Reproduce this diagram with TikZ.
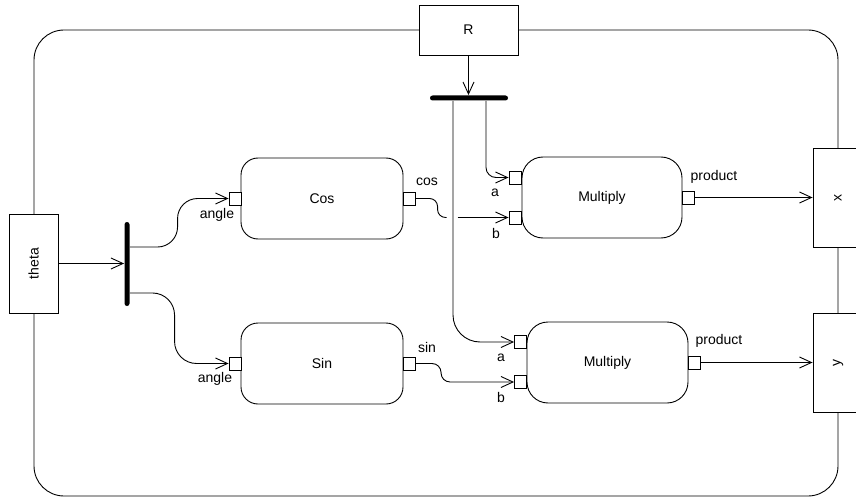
\documentclass[tikz,border=0pt]{standalone}
\usepackage{fontspec}
\setmainfont{Liberation Sans}
\usetikzlibrary{arrows.meta}
\begin{document}
\begin{tikzpicture}[x=1pt,y=-1pt, line width=0.9pt,
 font=\fontsize{14}{16}\selectfont,
 conn/.style={draw, -{Straight Barb[length=12pt,width=11pt]}},
 plain/.style={draw},
 blk/.style={draw, fill=white, rounded corners=17pt, minimum width=162pt, minimum height=81pt, inner sep=0pt},
 mblk/.style={draw, fill=white, rounded corners=21pt, minimum height=81pt, inner sep=0pt},
 vbox/.style={draw, fill=white, minimum width=49pt, minimum height=99pt, inner sep=0pt},
 hbox/.style={draw, fill=white, minimum width=99pt, minimum height=50pt, inner sep=0pt},
 port/.style={draw, fill=white, minimum width=12pt, minimum height=13pt, inner sep=0pt},
 bar/.style={fill=black, rounded corners=2.5pt, inner sep=0pt},
 lbl/.style={inner sep=0pt}]
\useasboundingbox (0,0) rectangle (856,497);
% frame
\draw[rounded corners=30pt] (34,30) rectangle (838,496);
% boundary boxes
\node[vbox] (theta) at (33.5,263.5) {\rotatebox{90}{theta}};
\node[hbox] (R) at (468.5,30) {R};
\node[vbox, minimum width=50pt] (x) at (838,197.5) {\rotatebox{90}{x}};
\node[vbox, minimum width=50pt] (y) at (838,362.5) {\rotatebox{90}{y}};
% blocks
\node[blk] (cos) at (322,198.5) {Cos};
\node[blk] (sin) at (322,363.5) {Sin};
\node[mblk, minimum width=160pt] (m1) at (602,197.5) {Multiply};
\node[mblk, minimum width=161pt] (m2) at (607.5,362.5) {Multiply};
% ports
\node[port] (cosin) at (235,198.5) {};
\node[port] (cosout) at (409,198.5) {};
\node[port] (sinin) at (235,363.5) {};
\node[port] (sinout) at (409,363.5) {};
\node[port] (m1a) at (515,177.5) {};
\node[port] (m1b) at (515,217.5) {};
\node[port] (m1p) at (688,197.5) {};
\node[port] (m2a) at (520.5,342) {};
\node[port] (m2b) at (520.5,382) {};
\node[port] (m2p) at (694,362.5) {};
% forks
\node[bar, minimum width=5pt, minimum height=84pt] (fork) at (127,264) {};
\node[bar, minimum width=78pt, minimum height=5pt] (rbar) at (469,98) {};
% labels
\node[lbl] (l1) at (217,215) {angle};
\node[lbl] (l2) at (215,379) {angle};
\node[lbl] (l3) at (427,182) {cos};
\node[lbl] (l4) at (427,347) {sin};
\node[lbl] (l5) at (495,193) {a};
\node[lbl] (l6) at (496,233) {b};
\node[lbl] (l7) at (501,358) {a};
\node[lbl] (l8) at (501,397) {b};
\node[lbl] (l9) at (714,177) {product};
\node[lbl] (l10) at (719,341) {product};
% gap coordinates
\coordinate (gapL) at ([xshift=-62pt]m1b.west);
\coordinate (gapR) at ([xshift=-51pt]m1b.west);
% connectors
\draw[conn] (theta.east) -- (theta.east -| fork.west);
\draw[conn] (R.south) -- (R.south |- rbar.north);
\draw[conn, rounded corners=20pt] ([yshift=17pt]fork.east) -| ([xshift=-51pt]cosin.west) -- (cosin.west);
\draw[conn, rounded corners=22pt] ([yshift=-29pt]fork.east) -| ([xshift=-54pt]sinin.west) -- (sinin.west);
\draw[plain, rounded corners=8pt] (cosout.east) -| ([xshift=-71pt]m1b.west) -- (gapL);
\draw[conn] (gapR) -- (m1b.west);
\draw[conn, rounded corners=9pt] (sinout.east) -| ([xshift=-73pt]m2b.west) -- (m2b.west);
\draw[conn, rounded corners=27pt] ([xshift=-16pt]rbar.south) |- (m2a.west);
\draw[conn, rounded corners=10pt] ([xshift=17pt]rbar.south) |- (m1a.west);
\draw[conn] (m1p.east) -- (x.west);
\draw[conn] (m2p.east) -- (y.west);
\end{tikzpicture}
\end{document}
